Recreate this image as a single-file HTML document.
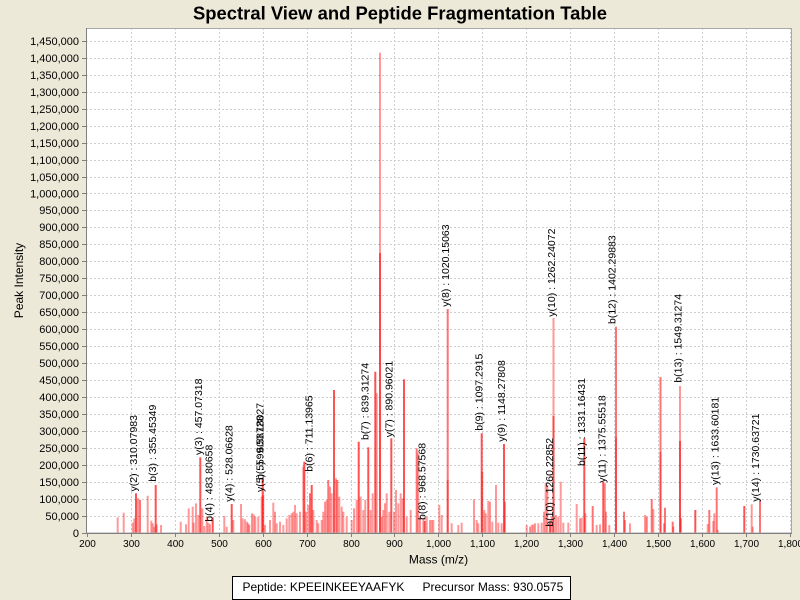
<!DOCTYPE html>
<html><head><meta charset="utf-8"><style>
html,body{margin:0;padding:0;background:#ECE9D8;}
svg{display:block;font-family:"Liberation Sans",Arial,sans-serif;}
.l{fill:rgba(255,0,0,0.4);}
.m{fill:rgba(255,0,0,0.55);}
.d{fill:rgba(255,0,0,0.68);}
.g{stroke:#CFCFCF;stroke-width:1;stroke-dasharray:2,2;fill:none;}
.yt{font-size:11px;fill:#000;text-anchor:end;}
.xt{font-size:10px;fill:#000;text-anchor:middle;}
.an{font-size:10.5px;fill:#000;}
</style></head><body>
<svg width="800" height="600" viewBox="0 0 800 600" xmlns="http://www.w3.org/2000/svg">
<rect x="0" y="0" width="800" height="600" fill="#ECE9D8"/>
<text x="400" y="19.5" text-anchor="middle" font-size="18" font-weight="bold" textLength="414" lengthAdjust="spacingAndGlyphs">Spectral View and Peptide Fragmentation Table</text>
<rect x="86" y="28" width="706" height="505" fill="#FFFFFF"/>
<!-- horizontal grid -->
<g class="g">
<line x1="86" x2="792" y1="516.5" y2="516.5"/><line x1="86" x2="792" y1="499.5" y2="499.5"/><line x1="86" x2="792" y1="482.5" y2="482.5"/><line x1="86" x2="792" y1="465.5" y2="465.5"/><line x1="86" x2="792" y1="448.5" y2="448.5"/><line x1="86" x2="792" y1="431.5" y2="431.5"/><line x1="86" x2="792" y1="414.5" y2="414.5"/><line x1="86" x2="792" y1="397.5" y2="397.5"/><line x1="86" x2="792" y1="380.5" y2="380.5"/><line x1="86" x2="792" y1="363.5" y2="363.5"/><line x1="86" x2="792" y1="346.5" y2="346.5"/><line x1="86" x2="792" y1="329.5" y2="329.5"/><line x1="86" x2="792" y1="312.5" y2="312.5"/><line x1="86" x2="792" y1="295.5" y2="295.5"/><line x1="86" x2="792" y1="278.5" y2="278.5"/><line x1="86" x2="792" y1="261.5" y2="261.5"/><line x1="86" x2="792" y1="244.5" y2="244.5"/><line x1="86" x2="792" y1="227.5" y2="227.5"/><line x1="86" x2="792" y1="210.5" y2="210.5"/><line x1="86" x2="792" y1="193.5" y2="193.5"/><line x1="86" x2="792" y1="177.5" y2="177.5"/><line x1="86" x2="792" y1="160.5" y2="160.5"/><line x1="86" x2="792" y1="143.5" y2="143.5"/><line x1="86" x2="792" y1="126.5" y2="126.5"/><line x1="86" x2="792" y1="109.5" y2="109.5"/><line x1="86" x2="792" y1="92.5" y2="92.5"/><line x1="86" x2="792" y1="75.5" y2="75.5"/><line x1="86" x2="792" y1="58.5" y2="58.5"/><line x1="86" x2="792" y1="41.5" y2="41.5"/>
<!-- vertical grid -->
<line y1="28" y2="533" x1="131.5" x2="131.5"/><line y1="28" y2="533" x1="175.5" x2="175.5"/><line y1="28" y2="533" x1="219.5" x2="219.5"/><line y1="28" y2="533" x1="263.5" x2="263.5"/><line y1="28" y2="533" x1="307.5" x2="307.5"/><line y1="28" y2="533" x1="351.5" x2="351.5"/><line y1="28" y2="533" x1="394.5" x2="394.5"/><line y1="28" y2="533" x1="438.5" x2="438.5"/><line y1="28" y2="533" x1="482.5" x2="482.5"/><line y1="28" y2="533" x1="526.5" x2="526.5"/><line y1="28" y2="533" x1="570.5" x2="570.5"/><line y1="28" y2="533" x1="614.5" x2="614.5"/><line y1="28" y2="533" x1="658.5" x2="658.5"/><line y1="28" y2="533" x1="702.5" x2="702.5"/><line y1="28" y2="533" x1="746.5" x2="746.5"/><line y1="28" y2="533" x1="790.5" x2="790.5"/>
</g>
<!-- bars -->
<g>
<rect class="l" x="116.7" y="517.3" width="2" height="15.7"/>
<rect class="l" x="122.7" y="512.7" width="2" height="20.3"/>
<rect class="l" x="131.7" y="522.7" width="2" height="10.3"/>
<rect class="l" x="133.3" y="518.3" width="2" height="14.7"/>
<rect class="d" x="135" y="493.3" width="2" height="39.7"/>
<rect class="l" x="137" y="498.3" width="2" height="34.7"/>
<rect class="m" x="139" y="500" width="2" height="33"/>
<rect class="l" x="146.7" y="495.7" width="2" height="37.3"/>
<rect class="l" x="150.3" y="520.7" width="2" height="12.3"/>
<rect class="l" x="151.7" y="523.3" width="2" height="9.7"/>
<rect class="l" x="153.3" y="526.7" width="2" height="6.3"/>
<rect class="d" x="154.7" y="485" width="2" height="48"/>
<rect class="l" x="155.7" y="524.3" width="2" height="8.7"/>
<rect class="l" x="160" y="525" width="2" height="8"/>
<rect class="l" x="179.7" y="521.7" width="2" height="11.3"/>
<rect class="l" x="185" y="524.3" width="2" height="8.7"/>
<rect class="l" x="187.7" y="508.3" width="2" height="24.7"/>
<rect class="l" x="191.7" y="506.7" width="2" height="26.3"/>
<rect class="l" x="192.7" y="522.7" width="2" height="10.3"/>
<rect class="l" x="195" y="503.3" width="2" height="29.7"/>
<rect class="l" x="197.3" y="515" width="2" height="18"/>
<rect class="d" x="199.3" y="457.3" width="2" height="75.7"/>
<rect class="l" x="201.3" y="508.3" width="2" height="24.7"/>
<rect class="l" x="203.3" y="526" width="2" height="7"/>
<rect class="l" x="205.7" y="516.7" width="2" height="16.3"/>
<rect class="l" x="207.3" y="522.7" width="2" height="10.3"/>
<rect class="l" x="209" y="524.3" width="2" height="8.7"/>
<rect class="d" x="211.7" y="517.3" width="2" height="15.7"/>
<rect class="l" x="223.3" y="516" width="2" height="17"/>
<rect class="l" x="225.7" y="526.7" width="2" height="6.3"/>
<rect class="d" x="230.7" y="504" width="2" height="29"/>
<rect class="l" x="232.3" y="520" width="2" height="13"/>
<rect class="l" x="240" y="504" width="2" height="29"/>
<rect class="l" x="241.7" y="518.3" width="2" height="14.7"/>
<rect class="l" x="244" y="519.3" width="2" height="13.7"/>
<rect class="l" x="246" y="521.7" width="2" height="11.3"/>
<rect class="l" x="247.3" y="523.3" width="2" height="9.7"/>
<rect class="l" x="248.3" y="525" width="2" height="8"/>
<rect class="l" x="251" y="513.3" width="2" height="19.7"/>
<rect class="l" x="252.7" y="514.3" width="2" height="18.7"/>
<rect class="l" x="254.3" y="516.7" width="2" height="16.3"/>
<rect class="l" x="257.3" y="516.7" width="2" height="16.3"/>
<rect class="l" x="260.7" y="496.7" width="2" height="36.3"/>
<rect class="d" x="261.7" y="478" width="2" height="55"/>
<rect class="l" x="262.3" y="495" width="2" height="38"/>
<rect class="l" x="264" y="525" width="2" height="8"/>
<rect class="l" x="269" y="520" width="2" height="13"/>
<rect class="l" x="272.3" y="502.7" width="2" height="30.3"/>
<rect class="l" x="274" y="511.7" width="2" height="21.3"/>
<rect class="l" x="275.7" y="523.3" width="2" height="9.7"/>
<rect class="l" x="279" y="521.7" width="2" height="11.3"/>
<rect class="l" x="282.3" y="525" width="2" height="8"/>
<rect class="l" x="285.7" y="518.3" width="2" height="14.7"/>
<rect class="l" x="288.3" y="515" width="2" height="18"/>
<rect class="l" x="290.7" y="513.3" width="2" height="19.7"/>
<rect class="l" x="292.3" y="511.7" width="2" height="21.3"/>
<rect class="l" x="294" y="505" width="2" height="28"/>
<rect class="l" x="295.7" y="513.3" width="2" height="19.7"/>
<rect class="l" x="299" y="511.7" width="2" height="21.3"/>
<rect class="l" x="302.3" y="466.7" width="2" height="66.3"/>
<rect class="d" x="303.3" y="461.7" width="2" height="71.3"/>
<rect class="l" x="305" y="511.7" width="2" height="21.3"/>
<rect class="l" x="307.3" y="505" width="2" height="28"/>
<rect class="m" x="309" y="493.3" width="2" height="39.7"/>
<rect class="d" x="310.7" y="485" width="2" height="48"/>
<rect class="l" x="312.3" y="510" width="2" height="23"/>
<rect class="l" x="315.7" y="520" width="2" height="13"/>
<rect class="l" x="317.3" y="523.3" width="2" height="9.7"/>
<rect class="l" x="320.7" y="520" width="2" height="13"/>
<rect class="l" x="322.3" y="511.7" width="2" height="21.3"/>
<rect class="l" x="324" y="501.7" width="2" height="31.3"/>
<rect class="l" x="325.7" y="500" width="2" height="33"/>
<rect class="m" x="327.3" y="480" width="2" height="53"/>
<rect class="l" x="329" y="486.7" width="2" height="46.3"/>
<rect class="l" x="330.7" y="493.3" width="2" height="39.7"/>
<rect class="d" x="333" y="390" width="2" height="143"/>
<rect class="l" x="335" y="478.3" width="2" height="54.7"/>
<rect class="m" x="336.3" y="480" width="2" height="53"/>
<rect class="l" x="338.3" y="496.7" width="2" height="36.3"/>
<rect class="l" x="340.7" y="506.7" width="2" height="26.3"/>
<rect class="l" x="342.3" y="511.7" width="2" height="21.3"/>
<rect class="l" x="345.7" y="516.7" width="2" height="16.3"/>
<rect class="l" x="350.7" y="520" width="2" height="13"/>
<rect class="l" x="353" y="508.3" width="2" height="24.7"/>
<rect class="l" x="355.7" y="500" width="2" height="33"/>
<rect class="d" x="357.7" y="441.7" width="2" height="91.3"/>
<rect class="l" x="359.7" y="496.7" width="2" height="36.3"/>
<rect class="l" x="362.3" y="510" width="2" height="23"/>
<rect class="l" x="364.3" y="500" width="2" height="33"/>
<rect class="d" x="367.3" y="447.3" width="2" height="85.7"/>
<rect class="l" x="369.7" y="510" width="2" height="23"/>
<rect class="l" x="371.7" y="493.3" width="2" height="39.7"/>
<rect class="d" x="374.3" y="371.7" width="2" height="161.3"/>
<rect class="l" x="375.7" y="393.3" width="2" height="139.7"/>
<rect class="l" x="379" y="52.7" width="2" height="480.3"/>
<rect class="m" x="379" y="253" width="2" height="280"/>
<rect class="l" x="380.7" y="516.7" width="2" height="16.3"/>
<rect class="l" x="382.3" y="510" width="2" height="23"/>
<rect class="l" x="384" y="503.3" width="2" height="29.7"/>
<rect class="l" x="385.7" y="493.3" width="2" height="39.7"/>
<rect class="l" x="388.3" y="511.7" width="2" height="21.3"/>
<rect class="d" x="390.3" y="438.3" width="2" height="94.7"/>
<rect class="l" x="393" y="511.7" width="2" height="21.3"/>
<rect class="l" x="395" y="490" width="2" height="43"/>
<rect class="l" x="397.3" y="503.3" width="2" height="29.7"/>
<rect class="l" x="399.7" y="493.3" width="2" height="39.7"/>
<rect class="l" x="401.7" y="498.3" width="2" height="34.7"/>
<rect class="d" x="403" y="379.3" width="2" height="153.7"/>
<rect class="l" x="405.7" y="516.7" width="2" height="16.3"/>
<rect class="l" x="409.7" y="510" width="2" height="23"/>
<rect class="m" x="415.7" y="448.3" width="2" height="84.7"/>
<rect class="l" x="417.3" y="453.3" width="2" height="79.7"/>
<rect class="l" x="419" y="516.7" width="2" height="16.3"/>
<rect class="l" x="422.3" y="518.3" width="2" height="14.7"/>
<rect class="d" x="423.7" y="521" width="2" height="12"/>
<rect class="l" x="425.7" y="516.7" width="2" height="16.3"/>
<rect class="l" x="429" y="520" width="2" height="13"/>
<rect class="l" x="430.7" y="520" width="2" height="13"/>
<rect class="l" x="432.3" y="520" width="2" height="13"/>
<rect class="l" x="438.3" y="505" width="2" height="28"/>
<rect class="l" x="440.7" y="515" width="2" height="18"/>
<rect class="m" x="446.7" y="309" width="2" height="224"/>
<rect class="l" x="446.7" y="480" width="2" height="53"/>
<rect class="l" x="450.7" y="523.3" width="2" height="9.7"/>
<rect class="l" x="457.3" y="525" width="2" height="8"/>
<rect class="l" x="460.7" y="522.7" width="2" height="10.3"/>
<rect class="l" x="473" y="499.3" width="2" height="33.7"/>
<rect class="l" x="475.7" y="520" width="2" height="13"/>
<rect class="l" x="477.3" y="523.3" width="2" height="9.7"/>
<rect class="d" x="480.7" y="433.3" width="2" height="99.7"/>
<rect class="l" x="481.3" y="471.7" width="2" height="61.3"/>
<rect class="l" x="483.3" y="510" width="2" height="23"/>
<rect class="l" x="484.7" y="513.3" width="2" height="19.7"/>
<rect class="l" x="487.3" y="500.7" width="2" height="32.3"/>
<rect class="l" x="489" y="501.7" width="2" height="31.3"/>
<rect class="l" x="491.3" y="521.7" width="2" height="11.3"/>
<rect class="l" x="495" y="485" width="2" height="48"/>
<rect class="l" x="497.3" y="522.7" width="2" height="10.3"/>
<rect class="l" x="500.7" y="523.3" width="2" height="9.7"/>
<rect class="d" x="503" y="444" width="2" height="89"/>
<rect class="l" x="504" y="501.7" width="2" height="31.3"/>
<rect class="l" x="525.7" y="525" width="2" height="8"/>
<rect class="l" x="529" y="526.7" width="2" height="6.3"/>
<rect class="l" x="530.7" y="525" width="2" height="8"/>
<rect class="l" x="532.3" y="524.3" width="2" height="8.7"/>
<rect class="l" x="534" y="523.3" width="2" height="9.7"/>
<rect class="l" x="537.3" y="523.3" width="2" height="9.7"/>
<rect class="l" x="540.7" y="522.7" width="2" height="10.3"/>
<rect class="l" x="543" y="511.7" width="2" height="21.3"/>
<rect class="l" x="544.7" y="482.7" width="2" height="50.3"/>
<rect class="l" x="546.3" y="485" width="2" height="48"/>
<rect class="d" x="549" y="521.7" width="2" height="11.3"/>
<rect class="l" x="550.7" y="516.7" width="2" height="16.3"/>
<rect class="l" x="552.5" y="318" width="2" height="215"/>
<rect class="m" x="552.5" y="416" width="2" height="117"/>
<rect class="l" x="555" y="515" width="2" height="18"/>
<rect class="l" x="557.3" y="516.7" width="2" height="16.3"/>
<rect class="l" x="559.7" y="481.7" width="2" height="51.3"/>
<rect class="l" x="562.3" y="522.7" width="2" height="10.3"/>
<rect class="l" x="567.3" y="522.7" width="2" height="10.3"/>
<rect class="l" x="575.7" y="504" width="2" height="29"/>
<rect class="l" x="579" y="518.3" width="2" height="14.7"/>
<rect class="l" x="580.7" y="517.7" width="2" height="15.3"/>
<rect class="d" x="583.3" y="438.3" width="2" height="94.7"/>
<rect class="l" x="584.3" y="513.3" width="2" height="19.7"/>
<rect class="m" x="591.7" y="506" width="2" height="27"/>
<rect class="l" x="595.7" y="525" width="2" height="8"/>
<rect class="l" x="599" y="524.3" width="2" height="8.7"/>
<rect class="d" x="602.3" y="481.7" width="2" height="51.3"/>
<rect class="l" x="604" y="483.3" width="2" height="49.7"/>
<rect class="l" x="605" y="511.7" width="2" height="21.3"/>
<rect class="l" x="608.3" y="525" width="2" height="8"/>
<rect class="m" x="615" y="326.7" width="2" height="206.3"/>
<rect class="l" x="615" y="437.3" width="2" height="95.7"/>
<rect class="m" x="623" y="511.7" width="2" height="21.3"/>
<rect class="l" x="624" y="520" width="2" height="13"/>
<rect class="l" x="629" y="523.3" width="2" height="9.7"/>
<rect class="l" x="644" y="515" width="2" height="18"/>
<rect class="m" x="645.7" y="516.7" width="2" height="16.3"/>
<rect class="m" x="650.7" y="499" width="2" height="34"/>
<rect class="l" x="652.3" y="509" width="2" height="24"/>
<rect class="m" x="659.5" y="377" width="2" height="156"/>
<rect class="l" x="659.5" y="452" width="2" height="81"/>
<rect class="l" x="663" y="523.3" width="2" height="9.7"/>
<rect class="m" x="664" y="507.7" width="2" height="25.3"/>
<rect class="m" x="671.7" y="521.7" width="2" height="11.3"/>
<rect class="l" x="672.3" y="526.7" width="2" height="6.3"/>
<rect class="l" x="679" y="386" width="2" height="147"/>
<rect class="m" x="679" y="441" width="2" height="92"/>
<rect class="l" x="680" y="518.3" width="2" height="14.7"/>
<rect class="d" x="694.3" y="510" width="2" height="23"/>
<rect class="l" x="706.7" y="524" width="2" height="9"/>
<rect class="m" x="708.3" y="510" width="2" height="23"/>
<rect class="l" x="712.3" y="521" width="2" height="12"/>
<rect class="l" x="713.3" y="513.3" width="2" height="19.7"/>
<rect class="m" x="715.7" y="487.3" width="2" height="45.7"/>
<rect class="l" x="716.7" y="530" width="2" height="3"/>
<rect class="d" x="743.3" y="506" width="2" height="27"/>
<rect class="l" x="750.7" y="504.3" width="2" height="28.7"/>
<rect class="l" x="751.7" y="526.7" width="2" height="6.3"/>
<rect class="m" x="759" y="500" width="2" height="33"/>
</g>
<!-- plot outline & axes -->
<rect x="86.5" y="28.5" width="705" height="504.5" fill="none" stroke="#A8A8A8" stroke-width="1"/>
<line x1="86.5" y1="28" x2="86.5" y2="533.5" stroke="#808080" stroke-width="1"/>
<line x1="86" y1="533.5" x2="792" y2="533.5" stroke="#808080" stroke-width="1"/>
<!-- y ticks -->
<g stroke="#808080" stroke-width="1">
<line x1="82" x2="86" y1="533.5" y2="533.5"/><line x1="82" x2="86" y1="516.5" y2="516.5"/><line x1="82" x2="86" y1="499.5" y2="499.5"/><line x1="82" x2="86" y1="482.5" y2="482.5"/><line x1="82" x2="86" y1="465.5" y2="465.5"/><line x1="82" x2="86" y1="448.5" y2="448.5"/><line x1="82" x2="86" y1="431.5" y2="431.5"/><line x1="82" x2="86" y1="414.5" y2="414.5"/><line x1="82" x2="86" y1="397.5" y2="397.5"/><line x1="82" x2="86" y1="380.5" y2="380.5"/><line x1="82" x2="86" y1="363.5" y2="363.5"/><line x1="82" x2="86" y1="346.5" y2="346.5"/><line x1="82" x2="86" y1="329.5" y2="329.5"/><line x1="82" x2="86" y1="312.5" y2="312.5"/><line x1="82" x2="86" y1="295.5" y2="295.5"/><line x1="82" x2="86" y1="278.5" y2="278.5"/><line x1="82" x2="86" y1="261.5" y2="261.5"/><line x1="82" x2="86" y1="244.5" y2="244.5"/><line x1="82" x2="86" y1="227.5" y2="227.5"/><line x1="82" x2="86" y1="210.5" y2="210.5"/><line x1="82" x2="86" y1="193.5" y2="193.5"/><line x1="82" x2="86" y1="177.5" y2="177.5"/><line x1="82" x2="86" y1="160.5" y2="160.5"/><line x1="82" x2="86" y1="143.5" y2="143.5"/><line x1="82" x2="86" y1="126.5" y2="126.5"/><line x1="82" x2="86" y1="109.5" y2="109.5"/><line x1="82" x2="86" y1="92.5" y2="92.5"/><line x1="82" x2="86" y1="75.5" y2="75.5"/><line x1="82" x2="86" y1="58.5" y2="58.5"/><line x1="82" x2="86" y1="41.5" y2="41.5"/>
<!-- x ticks -->
<line y1="534" y2="537" x1="87.5" x2="87.5"/><line y1="534" y2="537" x1="131.5" x2="131.5"/><line y1="534" y2="537" x1="175.5" x2="175.5"/><line y1="534" y2="537" x1="219.5" x2="219.5"/><line y1="534" y2="537" x1="263.5" x2="263.5"/><line y1="534" y2="537" x1="307.5" x2="307.5"/><line y1="534" y2="537" x1="351.5" x2="351.5"/><line y1="534" y2="537" x1="394.5" x2="394.5"/><line y1="534" y2="537" x1="438.5" x2="438.5"/><line y1="534" y2="537" x1="482.5" x2="482.5"/><line y1="534" y2="537" x1="526.5" x2="526.5"/><line y1="534" y2="537" x1="570.5" x2="570.5"/><line y1="534" y2="537" x1="614.5" x2="614.5"/><line y1="534" y2="537" x1="658.5" x2="658.5"/><line y1="534" y2="537" x1="702.5" x2="702.5"/><line y1="534" y2="537" x1="746.5" x2="746.5"/><line y1="534" y2="537" x1="790.5" x2="790.5"/>
</g>
<!-- y tick labels -->
<g class="yt">
<text x="79" y="537">0</text>
<text x="79" y="520">50,000</text>
<text x="79" y="503">100,000</text>
<text x="79" y="486">150,000</text>
<text x="79" y="469">200,000</text>
<text x="79" y="452">250,000</text>
<text x="79" y="435">300,000</text>
<text x="79" y="418">350,000</text>
<text x="79" y="401">400,000</text>
<text x="79" y="384">450,000</text>
<text x="79" y="367">500,000</text>
<text x="79" y="350">550,000</text>
<text x="79" y="333">600,000</text>
<text x="79" y="316">650,000</text>
<text x="79" y="299">700,000</text>
<text x="79" y="282">750,000</text>
<text x="79" y="265">800,000</text>
<text x="79" y="248">850,000</text>
<text x="79" y="231">900,000</text>
<text x="79" y="214">950,000</text>
<text x="79" y="197.5">1,000,000</text>
<text x="79" y="181">1,050,000</text>
<text x="79" y="164">1,100,000</text>
<text x="79" y="147">1,150,000</text>
<text x="79" y="130">1,200,000</text>
<text x="79" y="113">1,250,000</text>
<text x="79" y="96">1,300,000</text>
<text x="79" y="79">1,350,000</text>
<text x="79" y="62">1,400,000</text>
<text x="79" y="45">1,450,000</text>
</g>
<!-- x tick labels -->
<g class="xt">
<text x="87.5" y="547">200</text>
<text x="131.5" y="547">300</text>
<text x="175.5" y="547">400</text>
<text x="219.5" y="547">500</text>
<text x="263.5" y="547">600</text>
<text x="307.5" y="547">700</text>
<text x="351.5" y="547">800</text>
<text x="394.5" y="547">900</text>
<text x="438.5" y="547">1,000</text>
<text x="482.5" y="547">1,100</text>
<text x="526.5" y="547">1,200</text>
<text x="570.5" y="547">1,300</text>
<text x="614.5" y="547">1,400</text>
<text x="658.5" y="547">1,500</text>
<text x="702.5" y="547">1,600</text>
<text x="746.5" y="547">1,700</text>
<text x="790.5" y="547">1,800</text>
</g>
<!-- annotations -->
<g class="an">
<text transform="translate(137,491.5) rotate(-90)">y(2) : 310.07983</text>
<text transform="translate(156,481.7) rotate(-90)">b(3) : 355.45349</text>
<text transform="translate(202,455) rotate(-90)">y(3) : 457.07318</text>
<text transform="translate(212.7,521.7) rotate(-90)">b(4) : 483.80658</text>
<text transform="translate(232.7,501.7) rotate(-90)">y(4) : 528.06628</text>
<text transform="translate(263.3,492) rotate(-90)">y(5) : 599.58728</text>
<text transform="translate(263.3,480) rotate(-90)">b(5) : 600.18027</text>
<text transform="translate(312.3,471.7) rotate(-90)">b(6) : 711.13965</text>
<text transform="translate(368.3,440) rotate(-90)">b(7) : 839.31274</text>
<text transform="translate(392.3,437.3) rotate(-90)">y(7) : 890.96021</text>
<text transform="translate(425.7,520) rotate(-90)">b(8) : 968.57568</text>
<text transform="translate(449,306.7) rotate(-90)">y(8) : 1020.15063</text>
<text transform="translate(482.7,430.7) rotate(-90)">b(9) : 1097.2915</text>
<text transform="translate(505,441.7) rotate(-90)">y(9) : 1148.27808</text>
<text transform="translate(553,526.7) rotate(-90)">b(10) : 1260.22852</text>
<text transform="translate(555,316.7) rotate(-90)">y(10) : 1262.24072</text>
<text transform="translate(585,466) rotate(-90)">b(11) : 1331.16431</text>
<text transform="translate(605.3,482.7) rotate(-90)">y(11) : 1375.55518</text>
<text transform="translate(615.3,324) rotate(-90)">b(12) : 1402.29883</text>
<text transform="translate(681.7,382.7) rotate(-90)">b(13) : 1549.31274</text>
<text transform="translate(718.7,485) rotate(-90)">y(13) : 1633.60181</text>
<text transform="translate(759,501.7) rotate(-90)">y(14) : 1730.63721</text>
</g>
<!-- axis labels -->
<text x="438.5" y="563.5" text-anchor="middle" font-size="12">Mass (m/z)</text>
<text transform="translate(23,280.5) rotate(-90)" text-anchor="middle" font-size="12">Peak Intensity</text>
<!-- legend -->
<rect x="232.5" y="576.5" width="338" height="23" fill="#FFFFFF" stroke="#000000" stroke-width="1"/>
<text x="242.5" y="591" font-size="12">Peptide: KPEEINKEEYAAFYK</text>
<text x="422.5" y="591" font-size="12">Precursor Mass: 930.0575</text>
</svg>
</body></html>
